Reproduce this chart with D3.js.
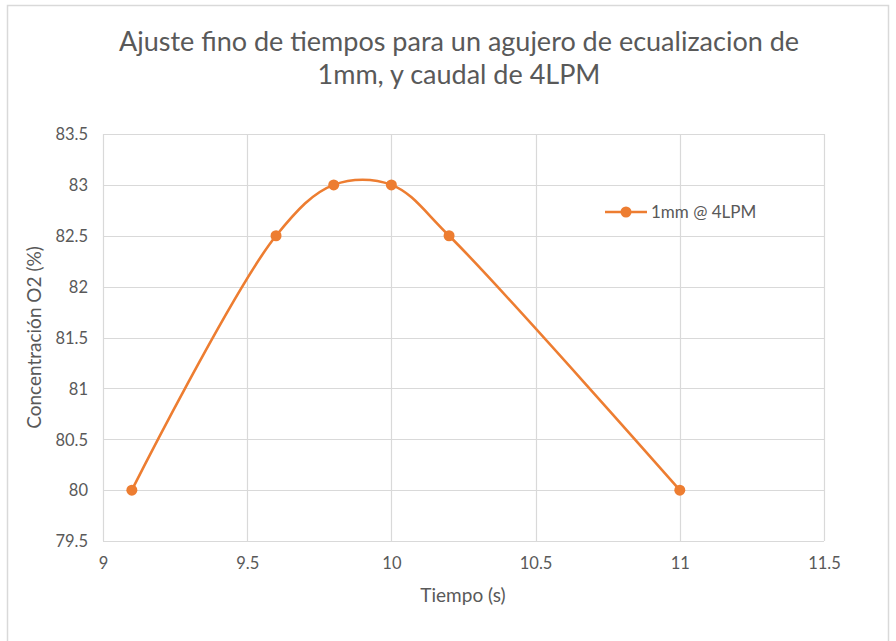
<!DOCTYPE html>
<html><head><meta charset="utf-8">
<script src="https://cdn.jsdelivr.net/npm/d3@7"></script>
<style>body{margin:0;background:#fff;}svg{display:block;}</style>
</head><body>
<svg id="c" width="896" height="641"></svg>
<script>
const xValues = [9.1, 9.6, 9.8, 10, 10.2, 11];
const yValues = [80, 82.5, 83, 83, 82.5, 80];
const seriesName = "1mm @ 4LPM";
const xTicks = [9, 9.5, 10, 10.5, 11, 11.5];
const yTicks = [79.5, 80, 80.5, 81, 81.5, 82, 82.5, 83, 83.5];
const titleLines = ["Ajuste fino de tiempos para un agujero de ecualizacion de", "1mm, y caudal de 4LPM"];
const xTitle = "Tiempo (s)";
const yTitle = "Concentración O2 (%)";

const svg = d3.select("#c");
const font = "Lato, 'Open Sans', sans-serif";
const color = "#ED7D31";
const L = 103, R = 824, T = 134, B = 541;

svg.append("rect").attr("x",7.5).attr("y",5.5).attr("width",881).attr("height",640)
  .attr("fill","#fff").attr("stroke","#d9d9d9").attr("stroke-width",1.5);

const x = d3.scaleLinear().domain([9, 11.5]).range([L, R]);
const y = d3.scaleLinear().domain([79.5, 83.5]).range([B, T]);

// gridlines
svg.append("g").selectAll("line").data(yTicks).join("line")
  .attr("x1", L).attr("x2", R).attr("y1", d=>Math.round(y(d))+0.5).attr("y2", d=>Math.round(y(d))+0.5)
  .attr("stroke", "#d9d9d9").attr("stroke-width", 1.2);
svg.append("g").selectAll("line").data(xTicks).join("line")
  .attr("y1", T).attr("y2", B).attr("x1", d=>Math.round(x(d))+0.5).attr("x2", d=>Math.round(x(d))+0.5)
  .attr("stroke", "#d9d9d9").attr("stroke-width", 1.2);

// axes labels via d3 axes
const xAxis = svg.append("g").attr("transform", `translate(0,${B})`)
  .call(d3.axisBottom(x).tickValues(xTicks).tickSize(0).tickPadding(16).tickFormat(d3.format("")));
const yAxis = svg.append("g").attr("transform", `translate(${L},0)`)
  .call(d3.axisLeft(y).tickValues(yTicks).tickSize(0).tickPadding(15).tickFormat(d3.format("")));
[xAxis, yAxis].forEach(a => {
  a.select(".domain").remove();
  a.selectAll("text").attr("fill", "#595959").style("font-family", font).style("font-size", "16.5px");
});
yAxis.selectAll("text").attr("dy", "0.35em");

// title
svg.append("text").attr("x", 459).attr("y", 51).attr("text-anchor","middle")
  .style("font-family", font).style("font-size","27px").attr("fill","#595959")
  .selectAll("tspan").data(titleLines).join("tspan")
  .attr("x", 459).attr("dy", (d,i)=> i===0 ? 0 : 33).text(d=>d);

// axis titles
svg.append("text").attr("x", 463).attr("y", 602).attr("text-anchor","middle")
  .style("font-family", font).style("font-size","19px").attr("fill","#595959").text(xTitle);
svg.append("text").attr("transform", `translate(41,${(T+B)/2}) rotate(-90)`).attr("text-anchor","middle")
  .style("font-family", font).style("font-size","19px").attr("fill","#595959").text(yTitle);

// line
const data = xValues.map((d,i)=>({x:d, y:yValues[i]}));
const line = d3.line().x(d=>x(d.x)).y(d=>y(d.y)).curve(d3.curveCatmullRom.alpha(0.5));
svg.append("path").datum(data).attr("d", line).attr("fill","none")
  .attr("stroke", color).attr("stroke-width", 2.6).attr("stroke-linejoin","round");
svg.append("g").selectAll("circle").data(data).join("circle")
  .attr("cx", d=>x(d.x)).attr("cy", d=>y(d.y)).attr("r", 5.5).attr("fill", color);

// legend
const lg = svg.append("g").attr("transform","translate(605,212)");
lg.append("line").attr("x1",0).attr("x2",42).attr("y1",0).attr("y2",0).attr("stroke",color).attr("stroke-width",2.6);
lg.append("circle").attr("cx",21).attr("cy",0).attr("r",5.5).attr("fill",color);
lg.append("text").attr("x",46).attr("y",0).attr("dy","0.35em").style("font-family",font)
  .style("font-size","17px").attr("fill","#595959").text(seriesName);
</script>
</body></html>
